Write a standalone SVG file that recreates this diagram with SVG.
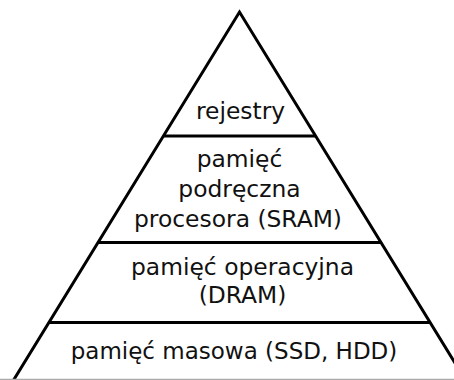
<svg xmlns="http://www.w3.org/2000/svg" width="454" height="380" viewBox="0 0 454 380">
  <style>
    .edge { fill: none; stroke: #000; stroke-width: 3; stroke-linejoin: miter; }
    .base { stroke: #aaa; stroke-width: 1.5; }
    .lbl { font-family: "DejaVu Sans", sans-serif; font-size: 23.4px; fill: #111; text-anchor: middle; }
  </style>
  <rect width="454" height="380" fill="#fff"/>
  <g id="connectors">
    <!-- pyramid outline -->
    <polyline class="edge" points="13,381 239.5,12 466,381"/>
    <line class="base" x1="0" y1="379.5" x2="454" y2="379.5"/>
    <!-- tier separators -->
    <line class="edge" x1="163.5" y1="136" x2="315.5" y2="136"/>
    <line class="edge" x1="97.5" y1="242.5" x2="381.5" y2="242.5"/>
    <line class="edge" x1="48" y1="322.5" x2="431" y2="322.5"/>
  </g>
  <g id="tier-registers">
    <text class="lbl" x="240.5" y="119">rejestry</text>
  </g>
  <g id="tier-cache">
    <text class="lbl" x="239.5" y="167">pamięć</text>
    <text class="lbl" x="239.5" y="197">podręczna</text>
    <text class="lbl" x="238" y="227">procesora (SRAM)</text>
  </g>
  <g id="tier-ram">
    <text class="lbl" x="242.5" y="275">pamięć operacyjna</text>
    <text class="lbl" x="242.5" y="303">(DRAM)</text>
  </g>
  <g id="tier-storage">
    <text class="lbl" x="234" y="359" style="font-size:23px">pamięć masowa (SSD, HDD)</text>
  </g>
</svg>
